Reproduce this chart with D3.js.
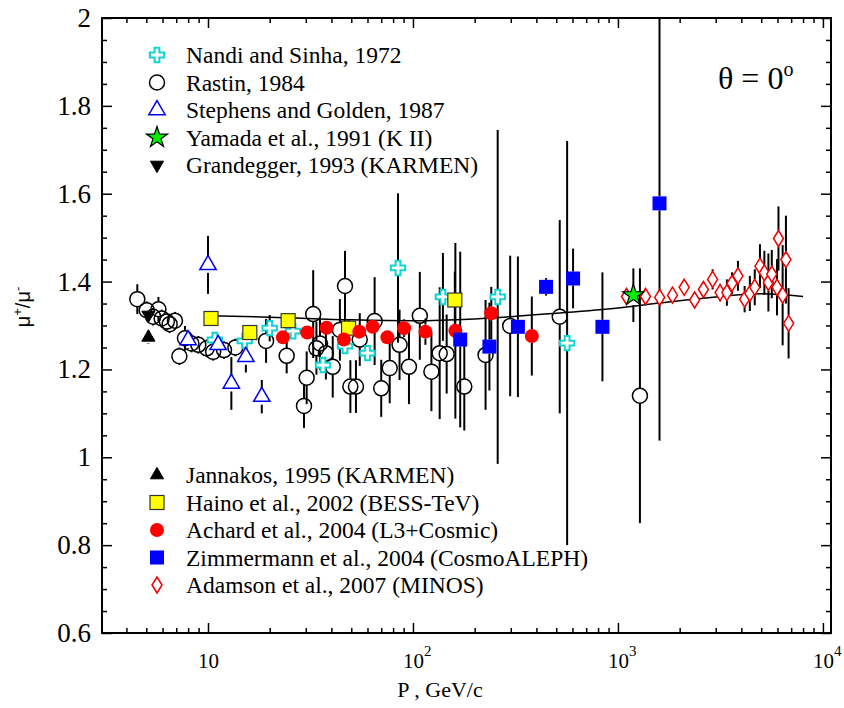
<!DOCTYPE html>
<html>
<head>
<meta charset="utf-8">
<script src="https://cdn.jsdelivr.net/npm/d3@7"></script>
<style>
  body { margin: 0; background: white; }
  text { font-family: "Liberation Serif", "Times New Roman", serif; }
</style>
</head>
<body>
<svg id="chart" width="844" height="708"></svg>
<script>
// each point: [P (GeV/c), mu+/mu-, error down, error up]
var nandi = [
    [10.8, 1.267, 0, 0], [15.1, 1.265, 0, 0], [20.0, 1.294, 0.03, 0.03], [26.0, 1.287, 0, 0],
    [36.4, 1.21, 0, 0], [46.6, 1.253, 0, 0], [60.0, 1.237, 0, 0], [84.5, 1.431, 0.17, 0.17],
    [140, 1.365, 0.1, 0.1], [259, 1.365, 0.38, 0.38], [565, 1.26, 0.46, 0.46]
]
var rastin = [
    [4.52, 1.360, 0.034, 0.034], [5.02, 1.335, 0.02, 0.02], [5.4, 1.32, 0.02, 0.02], [5.73, 1.337, 0.028, 0.028],
    [5.94, 1.316, 0.02, 0.02], [6.3, 1.309, 0.02, 0.02], [6.5, 1.303, 0.02, 0.02], [6.9, 1.311, 0.02, 0.02],
    [7.25, 1.23, 0.02, 0.02], [7.72, 1.271, 0.028, 0.028], [8.3, 1.259, 0.02, 0.02], [8.97, 1.256, 0.02, 0.02],
    [9.86, 1.248, 0.02, 0.02], [10.6, 1.24, 0.02, 0.02], [11.97, 1.244, 0.02, 0.02], [13.6, 1.25, 0.02, 0.02],
    [19.2, 1.265, 0.05, 0.05], [24.2, 1.231, 0.04, 0.04], [29.4, 1.117, 0.05, 0.05], [30.3, 1.181, 0.06, 0.06],
    [32.6, 1.326, 0.1, 0.1], [33.8, 1.248, 0.06, 0.06], [35.2, 1.259, 0.06, 0.06], [37.6, 1.237, 0.06, 0.06],
    [40.6, 1.206, 0.07, 0.07], [44.0, 1.29, 0.07, 0.07], [46.6, 1.39, 0.08, 0.08], [49.5, 1.161, 0.06, 0.06],
    [52.7, 1.161, 0.06, 0.06], [55, 1.268, 0.06, 0.06], [65, 1.31, 0.1, 0.1], [70, 1.157, 0.065, 0.065],
    [77, 1.203, 0.08, 0.08], [86, 1.256, 0.08, 0.08], [95.6, 1.206, 0.085, 0.085], [108, 1.322, 0.1, 0.1],
    [123, 1.195, 0.09, 0.09], [135, 1.237, 0.15, 0.15], [146, 1.235, 0.09, 0.09], [178, 1.161, 0.1, 0.1],
    [226, 1.233, 0.125, 0.125], [298, 1.299, 0.16, 0.16], [520, 1.32, 0.22, 0.22], [1280, 1.14, 0.29, 0.29]
]
var stephens = [
    [8.0, 1.267, 0.02, 0.02], [10.0, 1.438, 0.066, 0.066], [11.2, 1.256, 0.02, 0.02],
    [13.0, 1.168, 0.06, 0.06], [15.3, 1.229, 0.036, 0.036], [18.3, 1.138, 0.038, 0.038]
]
var yamada = [[1189, 1.369, 0.061, 0.061]]
var grandegger = [[5.12, 1.324, 0.01, 0.01]]
var jannakos = [[5.12, 1.273, 0.015, 0.015]]
var haino = [
    [10.34, 1.316, 0.01, 0.01], [16.0, 1.284, 0.015, 0.015], [24.6, 1.311, 0.015, 0.015],
    [48.5, 1.294, 0.02, 0.02], [160, 1.358, 0.065, 0.065]
]
var achard = [
    [23.2, 1.273, 0.01, 0.01], [30.5, 1.284, 0.01, 0.01], [37.9, 1.295, 0.01, 0.01], [46.0, 1.268, 0.01, 0.01],
    [54.7, 1.286, 0.01, 0.01], [63.6, 1.297, 0.015, 0.015], [75, 1.273, 0.015, 0.015], [90.5, 1.294, 0.02, 0.02],
    [115, 1.286, 0.03, 0.03], [161, 1.288, 0.2, 0.2], [241, 1.328, 0.06, 0.06], [380, 1.276, 0.09, 0.09]
]
var zimmermann = [
    [170, 1.268, 0.2, 0.2], [236, 1.252, 0.1, 0.1], [325, 1.297, 0.16, 0.16], [446, 1.388, 0.02, 0.02],
    [604, 1.407, 0.068, 0.068], [840, 1.297, 0.124, 0.124], [1595, 1.578, 0.54, 0.54]
]
var adamson = [
    [1101, 1.366, 0, 0], [1363, 1.366, 0, 0], [1598, 1.364, 0, 0], [1845, 1.369, 0, 0],
    [2105, 1.387, 0, 0], [2366, 1.358, 0, 0], [2612, 1.382, 0, 0], [2896, 1.405, 0.023, 0.023],
    [3150, 1.375, 0.02, 0.02], [3400, 1.375, 0.03, 0.03], [3600, 1.396, 0.025, 0.025], [3850, 1.413, 0.034, 0.034],
    [4150, 1.36, 0.03, 0.03], [4400, 1.373, 0.04, 0.04], [4650, 1.387, 0.041, 0.041], [4930, 1.435, 0.05, 0.05],
    [5180, 1.42, 0.05, 0.05], [5420, 1.398, 0.066, 0.066], [5630, 1.417, 0.055, 0.055], [5970, 1.387, 0.064, 0.064],
    [6070, 1.498, 0.073, 0.073], [6360, 1.369, 0.114, 0.114], [6600, 1.45, 0.1, 0.1], [6800, 1.305, 0.08, 0.08]
]
// fitted curve
var fitP = [10, 20, 50, 100, 200, 500, 1000, 1600, 3000, 5000, 8000]
var fitR = [1.322, 1.319, 1.313, 1.311, 1.315, 1.328, 1.340, 1.351, 1.365, 1.372, 1.366]

var yTicks = [0.6, 0.8, 1, 1.2, 1.4, 1.6, 1.8, 2]
var xTicks = [10, 100, 1000, 10000]
var xTickExp = ["", "2", "3", "4"]

var dims = {
    width: 844,
    height: 708,
    margin: { top: 18, bottom: 75, left: 102, right: 13 }
}
var plotRight = dims.width - dims.margin.right
var plotBottom = dims.height - dims.margin.bottom

var svg = d3.select("#chart")

var xScale = d3.scaleLog()
               .domain([3.04, 10950])
               .range([dims.margin.left, plotRight])
var yScale = d3.scaleLinear()
               .domain([0.6, 2])
               .range([plotBottom, dims.margin.top])

// minor ticks
var xMinor = []
for (var dec = 1; dec <= 1e4; dec *= 10) {
    for (var k = 1; k < 10; k++) {
        var v = dec * k
        if (v >= 3.04 && v <= 10950 && xTicks.indexOf(v) < 0) xMinor.push(v)
    }
}
var yMinor = d3.range(0.65, 2, 0.05).filter(d => Math.abs(d * 5 - Math.round(d * 5)) > 0.01)

var axes = svg.append("g")
// bottom / top
axes.append("g").attr("transform", `translate(0,${plotBottom})`)
    .call(d3.axisBottom(xScale).tickValues(xTicks).tickSizeInner(-10).tickSizeOuter(0).tickFormat(""))
axes.append("g").attr("transform", `translate(0,${plotBottom})`)
    .call(d3.axisBottom(xScale).tickValues(xMinor).tickSizeInner(-5).tickSizeOuter(0).tickFormat(""))
axes.append("g").attr("transform", `translate(0,${dims.margin.top})`)
    .call(d3.axisTop(xScale).tickValues(xTicks).tickSizeInner(-10).tickSizeOuter(0).tickFormat(""))
axes.append("g").attr("transform", `translate(0,${dims.margin.top})`)
    .call(d3.axisTop(xScale).tickValues(xMinor).tickSizeInner(-5).tickSizeOuter(0).tickFormat(""))
// left / right
axes.append("g").attr("transform", `translate(${dims.margin.left},0)`)
    .call(d3.axisLeft(yScale).tickValues(yTicks).tickSizeInner(-10).tickSizeOuter(0).tickFormat(""))
axes.append("g").attr("transform", `translate(${dims.margin.left},0)`)
    .call(d3.axisLeft(yScale).tickValues(yMinor).tickSizeInner(-5).tickSizeOuter(0).tickFormat(""))
axes.append("g").attr("transform", `translate(${plotRight},0)`)
    .call(d3.axisRight(yScale).tickValues(yTicks).tickSizeInner(-10).tickSizeOuter(0).tickFormat(""))
axes.append("g").attr("transform", `translate(${plotRight},0)`)
    .call(d3.axisRight(yScale).tickValues(yMinor).tickSizeInner(-5).tickSizeOuter(0).tickFormat(""))
axes.selectAll(".domain").remove()
axes.selectAll("line").attr("stroke", "black").attr("stroke-width", 1.5)

svg.append("rect")
   .attr("x", dims.margin.left)
   .attr("y", dims.margin.top)
   .attr("width", plotRight - dims.margin.left)
   .attr("height", plotBottom - dims.margin.top)
   .attr("fill", "none")
   .attr("stroke", "black")
   .attr("stroke-width", 2)

// tick labels
svg.append("g")
   .selectAll("text")
   .data(yTicks)
   .enter()
   .append("text")
   .attr("x", dims.margin.left - 11)
   .attr("y", d => yScale(d) + 9)
   .attr("text-anchor", "end")
   .attr("font-size", "27px")
   .text(d => d3.format("~g")(d))

var xLabels = svg.append("g")
                 .selectAll("text")
                 .data(xTicks)
                 .enter()
                 .append("text")
                 .attr("x", d => xScale(d) - 10)
                 .attr("y", plotBottom + 35)
                 .attr("font-size", "21px")
xLabels.append("tspan").text("10")
xLabels.append("tspan")
       .attr("dy", -12)
       .attr("font-size", "15px")
       .text((d, i) => xTickExp[i])

svg.append("text")
   .attr("x", 440)
   .attr("y", 697)
   .attr("text-anchor", "middle")
   .attr("font-size", "22px")
   .text("P , GeV/c")

var yLab = svg.append("text")
              .attr("transform", "translate(30,307) rotate(-90)")
              .attr("text-anchor", "middle")
              .attr("font-size", "20px")
              .style("font-family", "'Liberation Sans', Arial, sans-serif")
yLab.append("tspan").text("\u03bc")
yLab.append("tspan").attr("dy", -8).attr("font-size", "13px").text("+")
yLab.append("tspan").attr("dy", 8).text("/\u03bc")
yLab.append("tspan").attr("dy", -8).attr("font-size", "13px").text("-")

var theta = svg.append("text")
               .attr("x", 718)
               .attr("y", 89)
               .attr("font-size", "32px")
theta.append("tspan").text("\u03b8 = 0")
theta.append("tspan").attr("dy", -13).attr("font-size", "20px").text("o")

// fitted curve
svg.append("path")
   .datum(d3.zip(fitP, fitR))
   .attr("fill", "none")
   .attr("stroke", "black")
   .attr("stroke-width", 1.5)
   .attr("d", d3.line().x(d => xScale(d[0])).y(d => yScale(d[1])).curve(d3.curveMonotoneX))

// marker styles
var diamondPath = "M0,-8L5,0L0,8L-5,0Z"
var styles = {
    nandi: { sym: d3.symbol(d3.symbolCross, 115)(), fill: "white", stroke: "#11d3d3", half: 7, sw: 2 },
    rastin: { circle: 7.5, fill: "none", stroke: "black", half: 7.5, sw: 1.5 },
    stephens: { sym: d3.symbol(d3.symbolTriangle, 115)(), fill: "white", stroke: "#0000ee", half: 8, sw: 1.5 },
    yamada: { sym: d3.symbol(d3.symbolStar, 140)(), fill: "#00ee00", stroke: "black", half: 10, sw: 1.2 },
    grandegger: { sym: d3.symbol(d3.symbolTriangle, 75)(), fill: "black", stroke: "black", half: 6, sw: 1, rot: 180 },
    jannakos: { sym: d3.symbol(d3.symbolTriangle, 75)(), fill: "black", stroke: "black", half: 6, sw: 1 },
    haino: { square: 14, fill: "#ffff00", stroke: "#333", half: 7, sw: 1.2 },
    achard: { circle: 7, fill: "#ff0000", stroke: "none", half: 7, sw: 0 },
    zimmermann: { square: 14, fill: "#0000ff", stroke: "none", half: 7, sw: 0 },
    adamson: { sym: diamondPath, fill: "white", stroke: "#ee0000", half: 8, sw: 1.5 }
}

function drawMarker(g, st) {
    if (st.circle) {
        g.append("circle").attr("r", st.circle)
    } else if (st.square) {
        g.append("rect").attr("x", -st.square / 2).attr("y", -st.square / 2)
         .attr("width", st.square).attr("height", st.square)
    } else {
        g.append("path").attr("d", st.sym).attr("transform", st.rot ? `rotate(${st.rot})` : null)
    }
    g.selectAll("*")
     .attr("fill", st.fill)
     .attr("stroke", st.stroke)
     .attr("stroke-width", st.sw)
}

var yTop = dims.margin.top
var series = [
    ["rastin", rastin], ["nandi", nandi], ["stephens", stephens], ["haino", haino],
    ["achard", achard], ["zimmermann", zimmermann], ["adamson", adamson],
    ["grandegger", grandegger], ["jannakos", jannakos], ["yamada", yamada]
]

// error bars first, stopping at the marker edge
var bars = svg.append("g").attr("stroke", "black").attr("stroke-width", 2)
series.forEach(function(s) {
    var st = styles[s[0]]
    s[1].forEach(function(d) {
        var cx = xScale(d[0]), cy = yScale(d[1])
        var yHi = Math.max(yTop, yScale(d[1] + d[3]))
        var yLo = Math.min(plotBottom, yScale(d[1] - d[2]))
        if (cy - yHi > st.half) bars.append("line").attr("x1", cx).attr("x2", cx).attr("y1", yHi).attr("y2", cy - st.half)
        if (yLo - cy > st.half) bars.append("line").attr("x1", cx).attr("x2", cx).attr("y1", cy + st.half).attr("y2", yLo)
    })
})

series.forEach(function(s) {
    var st = styles[s[0]]
    svg.append("g")
       .selectAll("g")
       .data(s[1])
       .enter()
       .append("g")
       .attr("transform", d => `translate(${xScale(d[0])},${yScale(d[1])})`)
       .each(function() { drawMarker(d3.select(this), st) })
})

// legends
var legendTop = [
    ["nandi", "Nandi and Sinha, 1972"],
    ["rastin", "Rastin, 1984"],
    ["stephens", "Stephens and Golden, 1987"],
    ["yamada", "Yamada et al., 1991 (K II)"],
    ["grandegger", "Grandegger, 1993 (KARMEN)"]
]
var legendBottom = [
    ["jannakos", "Jannakos, 1995 (KARMEN)"],
    ["haino", "Haino et al., 2002 (BESS-TeV)"],
    ["achard", "Achard et al., 2004 (L3+Cosmic)"],
    ["zimmermann", "Zimmermann et al., 2004 (CosmoALEPH)"],
    ["adamson", "Adamson et al., 2007 (MINOS)"]
]
function drawLegend(items, y0) {
    items.forEach(function(item, i) {
        var y = y0 + i * 27.5
        var g = svg.append("g").attr("transform", `translate(157,${y})`)
        drawMarker(g, styles[item[0]])
        svg.append("text")
           .attr("x", 186)
           .attr("y", y + 8)
           .attr("font-size", "23.5px")
           .text(item[1])
    })
}
drawLegend(legendTop, 55)
drawLegend(legendBottom, 475)
</script>
</body>
</html>
